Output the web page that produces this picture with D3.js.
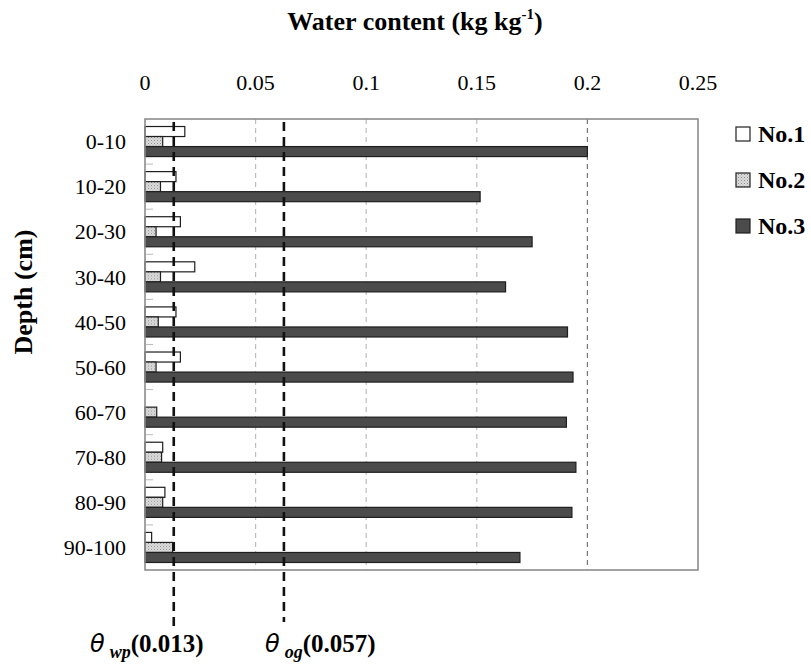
<!DOCTYPE html>
<html>
<head>
<meta charset="utf-8">
<script src="https://cdn.jsdelivr.net/npm/d3@7"></script>
<style>
  body { margin: 0; background: #fff; }
  svg { display: block; font-family: "Liberation Serif", "Times New Roman", serif; }
</style>
</head>
<body>
<div id="chart"></div>
<script>
// depth layers, top to bottom
const depths = ["0-10", "10-20", "20-30", "30-40", "40-50", "50-60", "60-70", "70-80", "80-90", "90-100"];
const seriesNames = ["No.1", "No.2", "No.3"];

// water content (kg/kg) per depth
const no1 = [0.018, 0.014, 0.016, 0.0225, 0.014, 0.016, 0, 0.008, 0.009, 0.003];
const no2 = [0.008, 0.007, 0.005, 0.007, 0.006, 0.005, 0.0053, 0.0075, 0.008, 0.0125];
const no3 = [0.2, 0.1515, 0.175, 0.163, 0.191, 0.1935, 0.1905, 0.1948, 0.193, 0.1695];

const xTicks = [0, 0.05, 0.1, 0.15, 0.2, 0.25];

// reference lines: where they sit on the axis, and what the labels say
const refPos = [0.013, 0.0628];
const refSub = ["wp", "og"];
const refText = ["(0.013)", "(0.057)"];

const W = 811, H = 672;
const margin = {top: 119, left: 145, right: 113, bottom: 102};
const plotW = W - margin.left - margin.right;
const plotH = H - margin.top - margin.bottom;

const svg = d3.select("#chart").append("svg")
  .attr("width", W).attr("height", H);

// stipple pattern for No.2
const defs = svg.append("defs");
const pat = defs.append("pattern")
  .attr("id", "dots").attr("patternUnits", "userSpaceOnUse")
  .attr("width", 3).attr("height", 3);
pat.append("rect").attr("width", 3).attr("height", 3).attr("fill", "#dedede");
pat.append("rect").attr("x", 0).attr("y", 0).attr("width", 1).attr("height", 1).attr("fill", "#8a8a8a");
pat.append("rect").attr("x", 1.5).attr("y", 1.5).attr("width", 1).attr("height", 1).attr("fill", "#a8a8a8");

const fills = {"No.1": "#ffffff", "No.2": "url(#dots)", "No.3": "#4b4b4b"};

const x = d3.scaleLinear().domain([0, 0.25]).range([0, plotW]);
const y = d3.scaleBand().domain(depths).range([0, plotH]);
const ySub = d3.scaleBand().domain(seriesNames).range([0, y.bandwidth()])
  .paddingInner(0).paddingOuter(0.75);

const g = svg.append("g")
  .attr("transform", "translate(" + margin.left + "," + margin.top + ")");

// vertical gridlines
g.selectAll(".grid")
  .data(xTicks.filter(d => d > 0 && d < 0.25))
  .enter().append("line")
  .attr("x1", d => x(d)).attr("x2", d => x(d))
  .attr("y1", 0).attr("y2", plotH)
  .attr("stroke", d => d === 0.2 ? "#777" : "#bdbdbd")
  .attr("stroke-width", 1.2)
  .attr("stroke-dasharray", "5,4");

// small inner ticks at group boundaries
g.selectAll(".ytick")
  .data(depths.slice(1))
  .enter().append("line")
  .attr("x1", 1).attr("x2", 8)
  .attr("y1", d => y(d)).attr("y2", d => y(d))
  .attr("stroke", "#bbb").attr("stroke-width", 1);

// bars
const rows = depths.map((d, i) => ({depth: d, vals: [no1[i], no2[i], no3[i]]}));
const grp = g.selectAll(".grp").data(rows).enter().append("g")
  .attr("transform", d => "translate(0," + y(d.depth) + ")");
grp.selectAll("rect")
  .data(d => d.vals.map((v, k) => ({name: seriesNames[k], v: v})).filter(e => e.v > 0))
  .enter().append("rect")
  .attr("x", x(0))
  .attr("y", d => ySub(d.name))
  .attr("width", d => x(d.v) - x(0))
  .attr("height", ySub.bandwidth())
  .attr("fill", d => fills[d.name])
  .attr("stroke", "#1e1e1e")
  .attr("stroke-width", 1.2);

// plot frame
g.append("rect")
  .attr("x", 0).attr("y", 0).attr("width", plotW).attr("height", plotH)
  .attr("fill", "none").attr("stroke", "#8c8c8c").attr("stroke-width", 1.6);

// top axis labels
g.selectAll(".xlab").data(xTicks).enter().append("text")
  .attr("x", d => x(d)).attr("y", -29)
  .attr("text-anchor", "middle")
  .attr("font-size", 22)
  .text(d => d3.format("")(d));

// depth labels
g.selectAll(".ylab").data(depths).enter().append("text")
  .attr("x", -19).attr("y", d => y(d) + y.bandwidth() / 2)
  .attr("dy", "0.35em")
  .attr("text-anchor", "end")
  .attr("font-size", 22)
  .text(d => d);

// axis titles
const title = svg.append("text")
  .attr("x", 415).attr("y", 30)
  .attr("text-anchor", "middle")
  .attr("font-size", 26).attr("font-weight", "bold");
title.append("tspan").text("Water content (kg kg");
title.append("tspan").attr("font-size", 15).attr("dy", -11).text("-1");
title.append("tspan").attr("dy", 11).text(")");

svg.append("text")
  .attr("transform", "translate(32," + 292 + ") rotate(-90)")
  .attr("text-anchor", "middle")
  .attr("font-size", 26).attr("font-weight", "bold")
  .text("Depth (cm)");

// reference dashed lines
g.selectAll(".ref").data(refPos).enter().append("line")
  .attr("x1", d => x(d)).attr("x2", d => x(d))
  .attr("y1", 3).attr("y2", (d, i) => i === 0 ? 509 : 503)
  .attr("stroke", "#111").attr("stroke-width", 2.6)
  .attr("stroke-dasharray", "9,6");

// reference labels
const refX = [90, 265];
refPos.forEach((p, i) => {
  const t = svg.append("text").attr("x", refX[i]).attr("y", 652)
    .attr("font-size", 25).attr("font-weight", "bold");
  t.append("tspan").attr("font-family", "'DejaVu Sans', sans-serif")
    .attr("font-style", "italic").attr("font-weight", "normal").attr("font-size", 24)
    .text("\u03B8");
  t.append("tspan").attr("font-style", "italic").attr("font-size", 18)
    .attr("dx", 5).attr("dy", 6).text(refSub[i]);
  t.append("tspan").attr("dy", -6).text(refText[i]);
});

// legend
const leg = svg.append("g");
seriesNames.forEach((s, i) => {
  const yy = 127 + i * 46;
  leg.append("rect").attr("x", 736).attr("y", yy).attr("width", 14).attr("height", 14)
    .attr("fill", fills[s]).attr("stroke", "#1e1e1e").attr("stroke-width", 1.2);
  leg.append("text").attr("x", 758).attr("y", yy + 14.5)
    .attr("font-size", 24).attr("font-weight", "bold").text(s);
});
</script>
</body>
</html>
